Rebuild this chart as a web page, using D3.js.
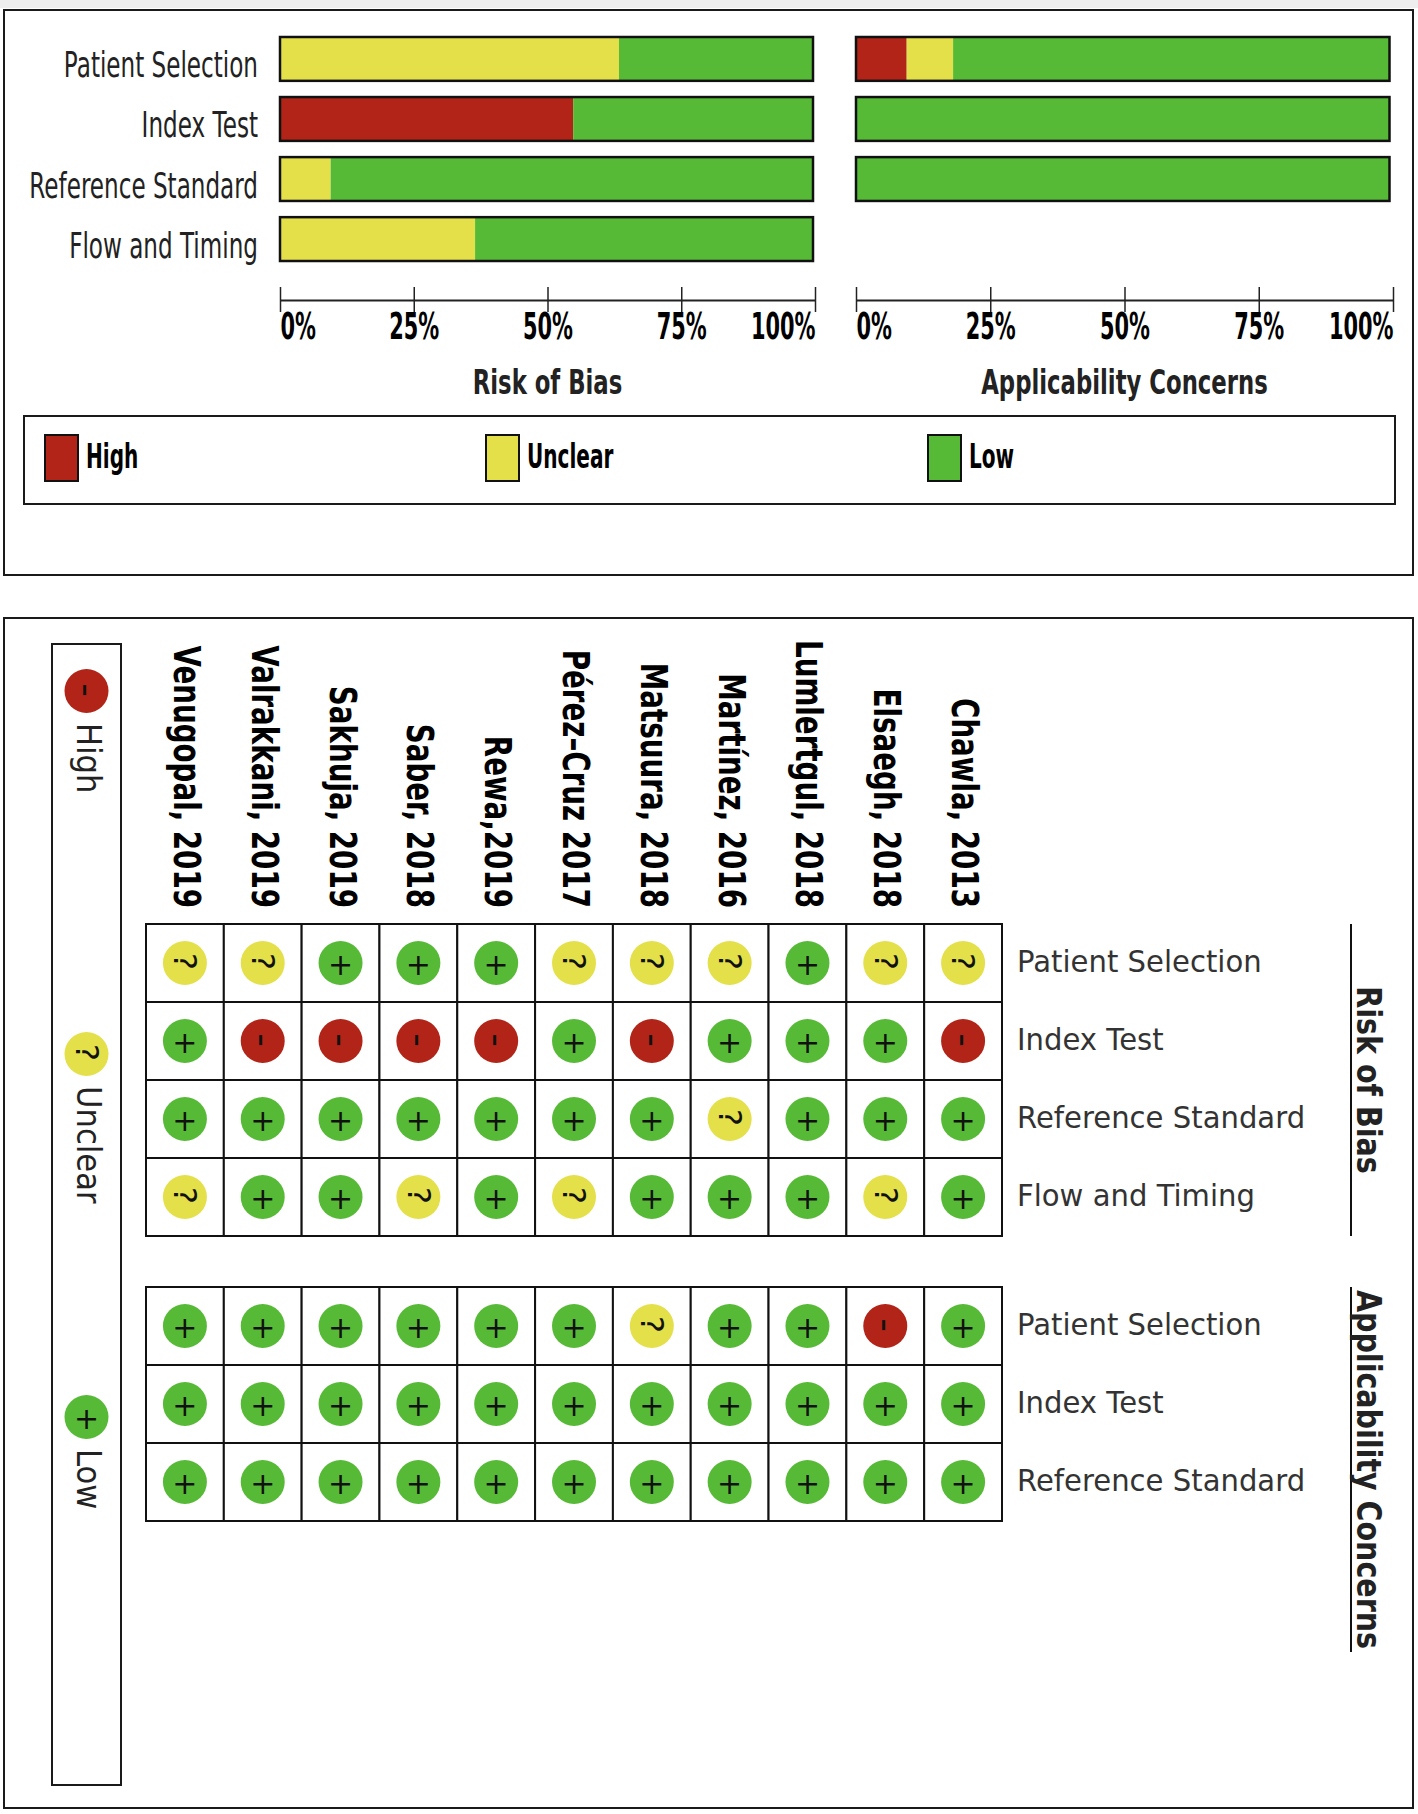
<!DOCTYPE html>
<html>
<head>
<meta charset="utf-8">
<script src="https://d3js.org/d3.v7.min.js"></script>
<style>
  html, body { margin: 0; padding: 0; background: #fff; }
  svg { display: block; }
</style>
</head>
<body>
<div id="svg-container"></div>
<script>
// Domains shown in the summary bars, percent of studies per judgement
var biasDomains = ["Patient Selection", "Index Test", "Reference Standard", "Flow and Timing"];
var biasHigh = [0, 55, 0, 0];
var biasUnclear = [63.6, 0, 9.5, 36.6];
var biasLow = [36.4, 45, 90.5, 63.4];

var applicDomains = ["Patient Selection", "Index Test", "Reference Standard"];
var applicHigh = [9.5, 0, 0];
var applicUnclear = [8.7, 0, 0];
var applicLow = [81.8, 100, 100];

var percentTicks = [0, 25, 50, 75, 100];
var judgements = ["High", "Unclear", "Low"];

var studies = ["Venugopal, 2019", "Valrakkani, 2019", "Sakhuja, 2019", "Saber, 2018", "Rewa,2019",
    "Pérez–Cruz 2017", "Matsuura, 2018", "Martínez, 2016", "Lumlertgul, 2018", "Elsaegh, 2018", "Chawla, 2013"];

// One row per domain, one symbol per study
var biasGrid = [
    ["?", "?", "+", "+", "+", "?", "?", "?", "+", "?", "?"],
    ["+", "-", "-", "-", "-", "+", "-", "+", "+", "+", "-"],
    ["+", "+", "+", "+", "+", "+", "+", "?", "+", "+", "+"],
    ["?", "+", "+", "?", "+", "?", "+", "+", "+", "?", "+"]
];
var applicGrid = [
    ["+", "+", "+", "+", "+", "+", "?", "+", "+", "-", "+"],
    ["+", "+", "+", "+", "+", "+", "+", "+", "+", "+", "+"],
    ["+", "+", "+", "+", "+", "+", "+", "+", "+", "+", "+"]
];

var width = 1418,
    height = 1814;

var colors = { "High": "#b12417", "Unclear": "#e4e04a", "Low": "#57ba37" };
var symbolJudgement = { "-": "High", "?": "Unclear", "+": "Low" };
var sans = "'DejaVu Sans', sans-serif";

var svg = d3.select("#svg-container")
    .append("svg")
    .attr("width", width)
    .attr("height", height);

svg.append("rect").attr("width", width).attr("height", height).attr("fill", "#fff");
svg.append("rect").attr("width", width).attr("height", 8).attr("fill", "#eeeeee");

// Squeezed text, the source picture was stretched out of proportion
function label(parent, str, x, y, opts) {
    return parent.append("text")
        .attr("transform", "translate(" + x + "," + y + ") rotate(" + (opts.rotate || 0) + ") scale(" + opts.sx + ",1)")
        .attr("font-family", sans)
        .attr("font-size", opts.size)
        .attr("font-weight", opts.weight || "normal")
        .attr("text-anchor", opts.anchor || "start")
        .attr("fill", opts.fill || "#111")
        .text(str);
}

function box(x, y, w, h, sw) {
    svg.append("rect")
        .attr("x", x).attr("y", y).attr("width", w).attr("height", h)
        .attr("fill", "none").attr("stroke", "#1a1a1a").attr("stroke-width", sw);
}

// Top panel and its legend

box(4, 10, 1409, 565, 2);
box(24, 416, 1371, 88, 2);

// Summary bars

var barY = d3.scaleBand()
    .domain(biasDomains)
    .range([37, 261])
    .paddingInner(0.27);

function drawBars(domains, high, unclear, low, x0, x1, axisEnd, title) {
    var x = d3.scaleLinear().domain([0, 100]).range([x0, x1]);
    var rows = domains.map(function(d, i) {
        return { name: d, High: high[i], Unclear: unclear[i], Low: low[i] };
    });
    var series = d3.stack().keys(judgements)(rows);
    var g = svg.append("g");

    series.forEach(function(s) {
        g.selectAll("rect." + s.key)
            .data(s)
            .enter().append("rect")
            .attr("class", s.key)
            .attr("x", function(d) { return x(d[0]); })
            .attr("y", function(d) { return barY(d.data.name); })
            .attr("width", function(d) { return x(d[1]) - x(d[0]); })
            .attr("height", barY.bandwidth())
            .attr("fill", colors[s.key]);
    });

    g.selectAll("rect.outline")
        .data(rows)
        .enter().append("rect")
        .attr("class", "outline")
        .attr("x", x0)
        .attr("y", function(d) { return barY(d.name); })
        .attr("width", x1 - x0)
        .attr("height", barY.bandwidth())
        .attr("fill", "none")
        .attr("stroke", "#111")
        .attr("stroke-width", 2.5);

    var axisX = d3.scaleLinear().domain([0, 100]).range([x0, axisEnd]);
    var axis = svg.append("g")
        .attr("transform", "translate(0,300)")
        .call(d3.axisBottom(axisX)
            .tickValues(percentTicks)
            .tickSizeInner(12)
            .tickSizeOuter(0)
            .tickFormat(function(d) { return d + "%"; }));

    axis.select(".domain").attr("stroke", "#222").attr("stroke-width", 2);
    axis.selectAll(".tick line").attr("y1", -13).attr("stroke", "#222").attr("stroke-width", 1.5);
    axis.selectAll(".tick text")
        .attr("y", 39)
        .attr("dy", 0)
        .attr("font-family", sans)
        .attr("font-size", 38)
        .attr("font-weight", "bold")
        .attr("fill", "#000")
        .attr("text-anchor", function(d) { return d === 0 ? "start" : d === 100 ? "end" : "middle"; })
        .attr("transform", "scale(0.55,1)");

    label(svg, title, (x0 + axisEnd) / 2, 394, { size: 34, sx: 0.67, weight: "bold", anchor: "middle", fill: "#222" });
}

drawBars(biasDomains, biasHigh, biasUnclear, biasLow, 280, 813, 815, "Risk of Bias");
drawBars(applicDomains, applicHigh, applicUnclear, applicLow, 856, 1389.5, 1393, "Applicability Concerns");

biasDomains.forEach(function(d) {
    label(svg, d, 258, barY(d) + barY.bandwidth() / 2 + 18.5, { size: 35, sx: 0.66, anchor: "end", fill: "#222" });
});

// Legend for the bars

var legendX = d3.scaleOrdinal().domain(judgements).range([45, 486, 928]);

svg.selectAll("rect.swatch")
    .data(judgements)
    .enter().append("rect")
    .attr("class", "swatch")
    .attr("x", function(d) { return legendX(d); })
    .attr("y", 435)
    .attr("width", 33)
    .attr("height", 46)
    .attr("fill", function(d) { return colors[d]; })
    .attr("stroke", "#111")
    .attr("stroke-width", 2);

judgements.forEach(function(d) {
    label(svg, d, legendX(d) + 41, 468, { size: 34, sx: 0.59, weight: "bold", fill: "#000" });
});

// Bottom panel

box(4, 618, 1409, 1190, 2);
box(52, 644, 69, 1141, 2);

function drawSymbol(parent, symbol, cx, cy) {
    var j = symbolJudgement[symbol];
    parent.append("circle")
        .attr("cx", cx)
        .attr("cy", cy)
        .attr("r", 22)
        .attr("fill", colors[j]);

    if (symbol === "+") {
        parent.append("text")
            .attr("x", cx).attr("y", cy + 3)
            .attr("dy", "0.315em")
            .attr("font-family", sans).attr("font-size", 30)
            .attr("text-anchor", "middle").attr("fill", "#111")
            .text("+");
    } else {
        parent.append("text")
            .attr("transform", "translate(" + (cx + (symbol === "-" ? -2 : 1)) + "," + (cy - (symbol === "-" ? 1 : 1.5)) + ") rotate(90)")
            .attr("dy", symbol === "-" ? "0.27em" : "0.365em")
            .attr("font-family", sans)
            .attr("font-size", symbol === "-" ? 38 : 32)
            .attr("text-anchor", "middle").attr("fill", "#111")
            .text(symbol);
    }
}

// Vertical legend

var legendSymbols = ["-", "?", "+"];
var legendCy = d3.scaleOrdinal().domain(legendSymbols).range([691, 1054, 1417]);
var legendGroup = svg.append("g");

legendSymbols.forEach(function(s) {
    drawSymbol(legendGroup, s, 86.5, legendCy(s));
    label(legendGroup, symbolJudgement[s], 77, legendCy(s) + 32, { size: 33, sx: 0.93, rotate: 90, fill: "#222" });
});

// Judgement grids

var gridX = d3.scaleBand().domain(studies).range([146, 1002]);

studies.forEach(function(d) {
    label(svg, d, gridX(d) + gridX.bandwidth() / 2 - 11, 908, { size: 38, sx: 0.73, rotate: 90, weight: "bold", anchor: "end", fill: "#000" });
});

function drawGrid(domains, grid, y0, y1) {
    var y = d3.scaleBand().domain(domains).range([y0, y1]);
    var g = svg.append("g");

    domains.forEach(function(dom, r) {
        studies.forEach(function(st, c) {
            g.append("rect")
                .attr("x", gridX(st))
                .attr("y", y(dom))
                .attr("width", gridX.bandwidth())
                .attr("height", y.bandwidth())
                .attr("fill", "#fff")
                .attr("stroke", "#111")
                .attr("stroke-width", 2);
            drawSymbol(g, grid[r][c], gridX(st) + gridX.bandwidth() / 2, y(dom) + y.bandwidth() / 2);
        });
        label(g, dom, 1017, y(dom) + y.bandwidth() / 2 + 9, { size: 30, sx: 0.97, fill: "#333" });
    });
}

drawGrid(biasDomains, biasGrid, 924, 1236);
drawGrid(applicDomains, applicGrid, 1287, 1521);

// Group rules and titles at the right

function sideTitle(title, y0, y1) {
    svg.append("line")
        .attr("x1", 1351).attr("x2", 1351)
        .attr("y1", y0).attr("y2", y1)
        .attr("stroke", "#111").attr("stroke-width", 2);
    label(svg, title, 1357, (y0 + y1) / 2, { size: 34, sx: 0.84, rotate: 90, weight: "bold", anchor: "middle", fill: "#222" });
}

sideTitle("Risk of Bias", 924, 1236);
sideTitle("Applicability Concerns", 1287, 1652);
</script>
</body>
</html>
